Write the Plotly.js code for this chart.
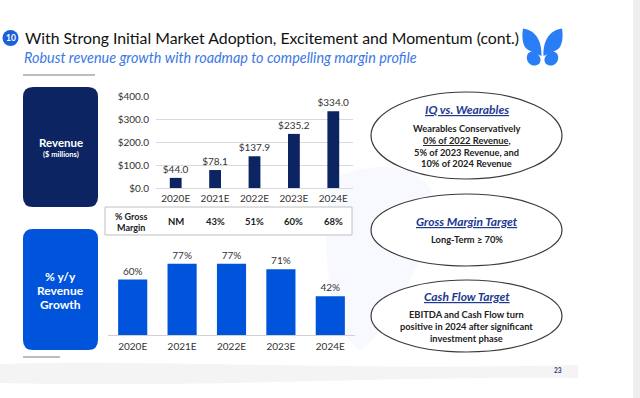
<!DOCTYPE html>
<html><head><meta charset="utf-8">
<script src="https://cdn.plot.ly/plotly-3.0.1.min.js"></script>
<style>html,body{margin:0;padding:0;background:#fff;} #chart{width:640px;height:398px;}</style>
</head><body><div id="chart"></div>
<script>
// ---- data ----
const years = ['2020E','2021E','2022E','2023E','2024E'];
const revenue = [44.0, 78.1, 137.9, 235.2, 334.0];
const revenueLabels = ['$44.0','$78.1','$137.9','$235.2','$334.0'];
const grossMargin = ['NM','43%','51%','60%','68%'];
const growth = [60, 77, 77, 71, 42];
const growthLabels = ['60%','77%','77%','71%','42%'];
const revTickVals = [0,100,200,300,400];
const revTickText = ['$0.0','$100.0','$200.0','$300.0','$400.0'];

// ---- helpers ----
const W = 640, H = 398;
const px = x => x / W;
const py = y => 1 - y / H;
const pt = (x, y) => px(x).toFixed(5) + ',' + py(y).toFixed(5);
const FONT = 'Lato, "Open Sans", sans-serif';
const NAVY = '#0c2461';
const BLUE = '#0054db';

function roundRect(x0, y0, x1, y1, r) {
  return 'M' + pt(x0 + r, y0) + ' L' + pt(x1 - r, y0) + ' Q' + pt(x1, y0) + ' ' + pt(x1, y0 + r) +
    ' L' + pt(x1, y1 - r) + ' Q' + pt(x1, y1) + ' ' + pt(x1 - r, y1) +
    ' L' + pt(x0 + r, y1) + ' Q' + pt(x0, y1) + ' ' + pt(x0, y1 - r) +
    ' L' + pt(x0, y0 + r) + ' Q' + pt(x0, y0) + ' ' + pt(x0 + r, y0) + ' Z';
}
function pathPx(segs) {
  return segs.map(s => {
    const c = [];
    for (let i = 1; i < s.length; i += 2) c.push(pt(s[i], s[i + 1]));
    return s[0] + (c.length ? ' ' + c.join(' ') : '');
  }).join(' ');
}
function mirror(segs, cx) {
  return segs.map(s => [s[0]].concat(s.slice(1).map((v, i) => i % 2 === 0 ? 2 * cx - v : v)));
}

const upperWing = [['M',523,28.5],['C',535,30,542,40,541.5,56],['C',535,53,528,51,525,47],['C',522,42,522,34,523,28.5],['Z']];
const lowerWing = [['M',540.5,59],['C',539,53,532,50,528.5,53],['C',525,57,527,64,533,65.5],['C',538,66,541,63,540.5,59],['Z']];
const LOGO = '#2a7ef5';

const shapes = [
  {type:'rect', xref:'paper', yref:'paper', x0:px(633), x1:px(640), y0:0, y1:1, fillcolor:'#efefef', line:{width:0}, layer:'below'},
  {type:'path', xref:'paper', yref:'paper', layer:'below', fillcolor:'#f4f4f4', line:{width:0},
   path: pathPx([['M',0,364],['C',150,359,350,371,578,365],['L',578,378],['C',400,376,200,388,0,383],['Z']])},
  {type:'path', xref:'paper', yref:'paper', layer:'below', fillcolor:'rgba(232,239,251,0.35)', line:{width:0},
   path: pathPx([['M',330,180],['C',390,150,470,170,420,260],['C',400,300,380,340,360,350],['C',330,330,320,260,330,180],['Z']])},
  {type:'circle', xref:'paper', yref:'paper', x0:px(2.5), x1:px(18.5), y0:py(46), y1:py(30), fillcolor:'#1b5fd9', line:{width:0}},
  {type:'line', xref:'paper', yref:'paper', x0:px(23), x1:px(95), y0:py(75), y1:py(75), line:{color:'#bdbdbd', width:2}},
  {type:'line', xref:'paper', yref:'paper', x0:px(23), x1:px(60), y0:py(357), y1:py(357), line:{color:'#bdbdbd', width:2}},
  {type:'path', xref:'paper', yref:'paper', fillcolor:NAVY, line:{width:0}, path: roundRect(23, 87, 98, 207, 10)},
  {type:'path', xref:'paper', yref:'paper', fillcolor:BLUE, line:{width:0}, path: roundRect(23, 229, 98, 350, 10)},
  {type:'rect', xref:'paper', yref:'paper', x0:px(105), x1:px(352), y0:py(235), y1:py(207), fillcolor:'rgba(255,255,255,0.9)', line:{color:'#bfbfbf', width:1}},
  {type:'circle', xref:'paper', yref:'paper', x0:px(371), x1:px(562), y0:py(179), y1:py(92), fillcolor:'#ffffff', line:{color:'#3a3a3a', width:1.2}},
  {type:'circle', xref:'paper', yref:'paper', x0:px(371), x1:px(562), y0:py(266), y1:py(194), fillcolor:'#ffffff', line:{color:'#3a3a3a', width:1.2}},
  {type:'circle', xref:'paper', yref:'paper', x0:px(371), x1:px(562), y0:py(352), y1:py(280), fillcolor:'#ffffff', line:{color:'#3a3a3a', width:1.2}},
  {type:'path', xref:'paper', yref:'paper', fillcolor:LOGO, line:{width:0}, path: pathPx(upperWing)},
  {type:'path', xref:'paper', yref:'paper', fillcolor:LOGO, line:{width:0}, path: pathPx(mirror(upperWing, 542.5))},
  {type:'path', xref:'paper', yref:'paper', fillcolor:LOGO, line:{width:0}, path: pathPx(lowerWing)},
  {type:'path', xref:'paper', yref:'paper', fillcolor:LOGO, line:{width:0}, path: pathPx(mirror(lowerWing, 542.5))}
];

function txt(text, x, y, size, opts) {
  return Object.assign({xref:'paper', yref:'paper', x:px(x), y:py(y), text:text, showarrow:false,
    xanchor:'center', yanchor:'middle', font:{family:FONT, size:size, color:'#222'}}, opts || {});
}

const annotations = [
  txt('<b>10</b>', 10.5, 38, 8.5, {font:{family:FONT, size:8.5, color:'#fff'}}),
  txt('With Strong Initial Market Adoption, Excitement and Momentum (cont.)', 23, 38, 15.8, {xanchor:'left', font:{family:FONT, size:15.8, color:'#111'}}),
  txt('<i>Robust revenue growth with roadmap to compelling margin profile</i>', 22, 57, 14.4, {xanchor:'left', font:{family:FONT, size:14.4, color:'#3b78e4'}}),
  txt('<b>Revenue</b>', 60.5, 142, 11.5, {font:{family:FONT, size:11.5, color:'#fff'}}),
  txt('<b>($ millions)</b>', 60.5, 154, 7.5, {font:{family:FONT, size:7.5, color:'#fff'}}),
  txt('<b>% y/y</b>', 60.5, 276, 12, {font:{family:FONT, size:12, color:'#fff'}}),
  txt('<b>Revenue</b>', 60.5, 290, 12, {font:{family:FONT, size:12, color:'#fff'}}),
  txt('<b>Growth</b>', 60.5, 304, 12, {font:{family:FONT, size:12, color:'#fff'}}),
  txt('<b>% Gross</b>', 131, 216, 9, {font:{family:FONT, size:9, color:'#222'}}),
  txt('<b>Margin</b>', 131, 227, 9, {font:{family:FONT, size:9, color:'#222'}}),
  txt('<b><i><u>IQ vs. Wearables</u></i></b>', 466.5, 109, 12, {font:{family:FONT, size:12, color:'#1d3a8f'}}),
  txt('<b>Wearables Conservatively</b>', 466.5, 128.5, 9.3),
  txt('<b><u>0% of 2022 Revenue</u>,</b>', 466.5, 140.5, 9.3),
  txt('<b>5% of 2023 Revenue, and</b>', 466.5, 152, 9.3),
  txt('<b>10% of 2024 Revenue</b>', 466.5, 163, 9.3),
  txt('<b><i><u>Gross Margin Target</u></i></b>', 466.5, 221, 12, {font:{family:FONT, size:12, color:'#1d3a8f'}}),
  txt('<b>Long-Term ≥ 70%</b>', 466.5, 239.5, 9.3),
  txt('<b><i><u>Cash Flow Target</u></i></b>', 466.5, 296, 12, {font:{family:FONT, size:12, color:'#1d3a8f'}}),
  txt('<b>EBITDA and Cash Flow turn</b>', 466.5, 314.5, 9.3),
  txt('<b>positive in 2024 after significant</b>', 466.5, 326, 9.3),
  txt('<b>investment phase</b>', 466.5, 338, 9.3),
  txt('<b>23</b>', 558, 370, 6.5, {font:{family:FONT, size:6.5, color:'#1d3a8f'}})
];
years.forEach((yr, i) => {
  annotations.push({xref:'x', yref:'paper', x:yr, y:py(221.5), text:'<b>' + grossMargin[i] + '</b>', showarrow:false,
    xanchor:'center', yanchor:'middle', font:{family:FONT, size:9.5, color:'#222'}});
});

const traces = [
  {type:'bar', x:years, y:revenue, xaxis:'x', yaxis:'y', width:0.3,
   marker:{color:NAVY}, text:revenueLabels, textposition:'outside', cliponaxis:false, constraintext:'none',
   textfont:{family:FONT, size:10, color:'#333'}, hoverinfo:'none'},
  {type:'bar', x:years, y:growth, xaxis:'x2', yaxis:'y2', width:0.59,
   marker:{color:BLUE}, text:growthLabels, textposition:'outside', cliponaxis:false, constraintext:'none',
   textfont:{family:FONT, size:10, color:'#333'}, hoverinfo:'none'}
];

const layout = {
  width: W, height: H, margin:{l:0, r:0, t:0, b:0},
  paper_bgcolor:'#ffffff', plot_bgcolor:'rgba(0,0,0,0)', showlegend:false,
  font:{family:FONT, color:'#333'},
  xaxis:{domain:[px(156), px(353)], anchor:'y', showgrid:false, showline:false, zeroline:false,
    ticks:'', tickfont:{family:FONT, size:10, color:'#333'}, ticklabelstandoff:3, fixedrange:true},
  yaxis:{domain:[py(188), py(96)], anchor:'x', range:[0,400], tickvals:revTickVals, ticktext:revTickText,
    showgrid:true, gridcolor:'#d9d9d9', gridwidth:1, zeroline:true, zerolinecolor:'#d9d9d9', zerolinewidth:1,
    showline:false, ticks:'', tickfont:{family:FONT, size:10, color:'#333'}, ticklabelstandoff:6, fixedrange:true},
  xaxis2:{domain:[px(108), px(355)], anchor:'y2', showgrid:false, showline:true, linecolor:'#d0d0d0', linewidth:1,
    zeroline:false, ticks:'', tickfont:{family:FONT, size:10, color:'#333'}, ticklabelstandoff:2, fixedrange:true},
  yaxis2:{domain:[py(335), py(242.5)], anchor:'x2', range:[0,100], visible:false, fixedrange:true},
  shapes: shapes,
  annotations: annotations
};

Plotly.newPlot('chart', traces, layout, {displayModeBar:false, staticPlot:true});
</script>
</body></html>
